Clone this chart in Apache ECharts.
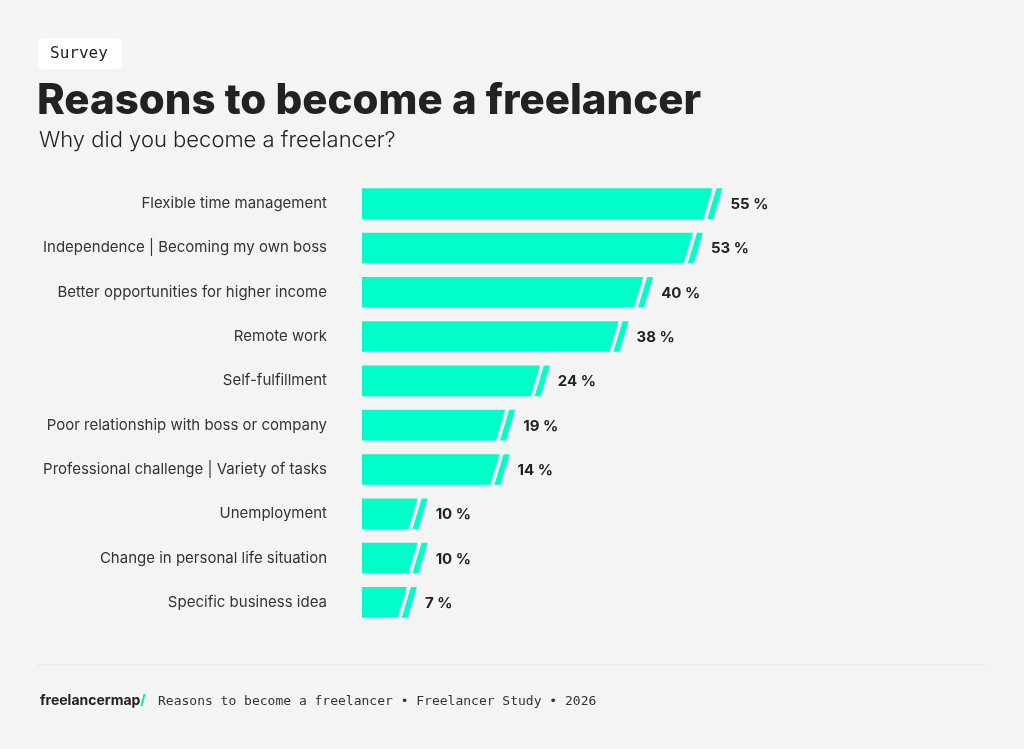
<!DOCTYPE html>
<html>
<head>
<meta charset="utf-8">
<script src="https://cdn.jsdelivr.net/npm/echarts@6/dist/echarts.min.js"></script>
<style>
  html, body { margin: 0; padding: 0; background: #f4f4f4; }
  #chart { width: 1024px; height: 749px; }
</style>
</head>
<body>
<div id="chart"></div>
<script>
// reasons, top to bottom
const reasons = [
  'Flexible time management',
  'Independence | Becoming my own boss',
  'Better opportunities for higher income',
  'Remote work',
  'Self-fulfillment',
  'Poor relationship with boss or company',
  'Professional challenge | Variety of tasks',
  'Unemployment',
  'Change in personal life situation',
  'Specific business idea'
]
// share of respondents (%), as printed next to each bar
const shares = [55, 53, 40, 38, 24, 19, 14, 10, 10, 7]
// drawn bar length as it appears in the picture (not to scale with the share)
const barLengths = [54.9, 51.8, 43.9, 40.0, 27.5, 22.0, 21.1, 8.1, 8.1, 6.4]

const MINT = '#00ffc8'
const INK = '#222222'
const FONT = 'Inter, "Noto Sans", sans-serif'
const MONO = '"DejaVu Sans Mono", "Liberation Mono", monospace'

const chart = echarts.init(document.getElementById('chart'))

// bar with a slanted end and a cut-off sliver, then the value label
const renderBar = (params, api) => {
  const len = api.value(0)
  const cat = api.value(1)
  const start = api.coord([0, cat])
  const end = api.coord([len, cat])
  const h = api.size([0, 1])[1] * 0.69
  const top = start[1] - h / 2
  const bottom = start[1] + h / 2
  const s = 4.6 // half of the slant
  const gap = 4
  const w = 6
  const xm = end[0]
  return {
    type: 'group',
    children: [
      {
        type: 'polygon',
        shape: { points: [[start[0], top], [xm + s, top], [xm - s, bottom], [start[0], bottom]] },
        style: { fill: MINT }
      },
      {
        type: 'polygon',
        shape: {
          points: [
            [xm + s + gap, top], [xm + s + gap + w, top],
            [xm - s + gap + w, bottom], [xm - s + gap, bottom]
          ]
        },
        style: { fill: MINT }
      },
      {
        type: 'text',
        x: xm + s + gap + w + 8,
        y: start[1] + 1,
        style: {
          text: shares[params.dataIndex] + ' %',
          font: '700 15px ' + FONT,
          fill: INK,
          verticalAlign: 'middle'
        }
      }
    ]
  }
}

const option = {
  backgroundColor: '#f4f4f4',
  animation: false,
  grid: { left: 362, top: 181.5, width: 378, height: 443 },
  xAxis: { type: 'value', min: 0, max: 60, show: false },
  yAxis: {
    type: 'category',
    inverse: true,
    data: reasons,
    axisLine: { show: false },
    axisTick: { show: false },
    splitLine: { show: false },
    axisLabel: {
      margin: 35,
      fontFamily: FONT,
      fontSize: 15,
      color: '#333333'
    }
  },
  series: [{
    type: 'custom',
    renderItem: renderBar,
    encode: { x: 0, y: 1 },
    data: barLengths.map((len, i) => [len, i])
  }],
  graphic: [
    {
      type: 'rect',
      shape: { x: 38, y: 38.5, width: 83.5, height: 30.5, r: 4 },
      style: { fill: '#ffffff' }
    },
    {
      type: 'text', x: 50, y: 54,
      style: { text: 'Survey', font: '16px ' + MONO, fill: INK, verticalAlign: 'middle' }
    },
    {
      type: 'text', x: 37, y: 101,
      style: { text: 'Reasons to become a freelancer', font: '800 42px ' + FONT, fill: INK, verticalAlign: 'middle' }
    },
    {
      type: 'text', x: 39, y: 140,
      style: { text: 'Why did you become a freelancer?', font: '300 22px ' + FONT, fill: INK, verticalAlign: 'middle' }
    },
    {
      type: 'line',
      shape: { x1: 38, y1: 665, x2: 985, y2: 665 },
      style: { stroke: '#e3e3e3', lineWidth: 1 }
    },
    {
      type: 'text', x: 40, y: 701,
      style: {
        text: '{b|freelancermap}{s|/}',
        verticalAlign: 'middle',
        rich: {
          b: { font: '700 14px ' + FONT, fill: INK },
          s: { font: '700 14px ' + FONT, fill: '#00e6b4' }
        }
      }
    },
    {
      type: 'text', x: 158, y: 702,
      style: {
        text: 'Reasons to become a freelancer \u2022 Freelancer Study \u2022 2026',
        font: '13px ' + MONO, fill: '#333333', verticalAlign: 'middle'
      }
    }
  ]
}

chart.setOption(option)
</script>
</body>
</html>
